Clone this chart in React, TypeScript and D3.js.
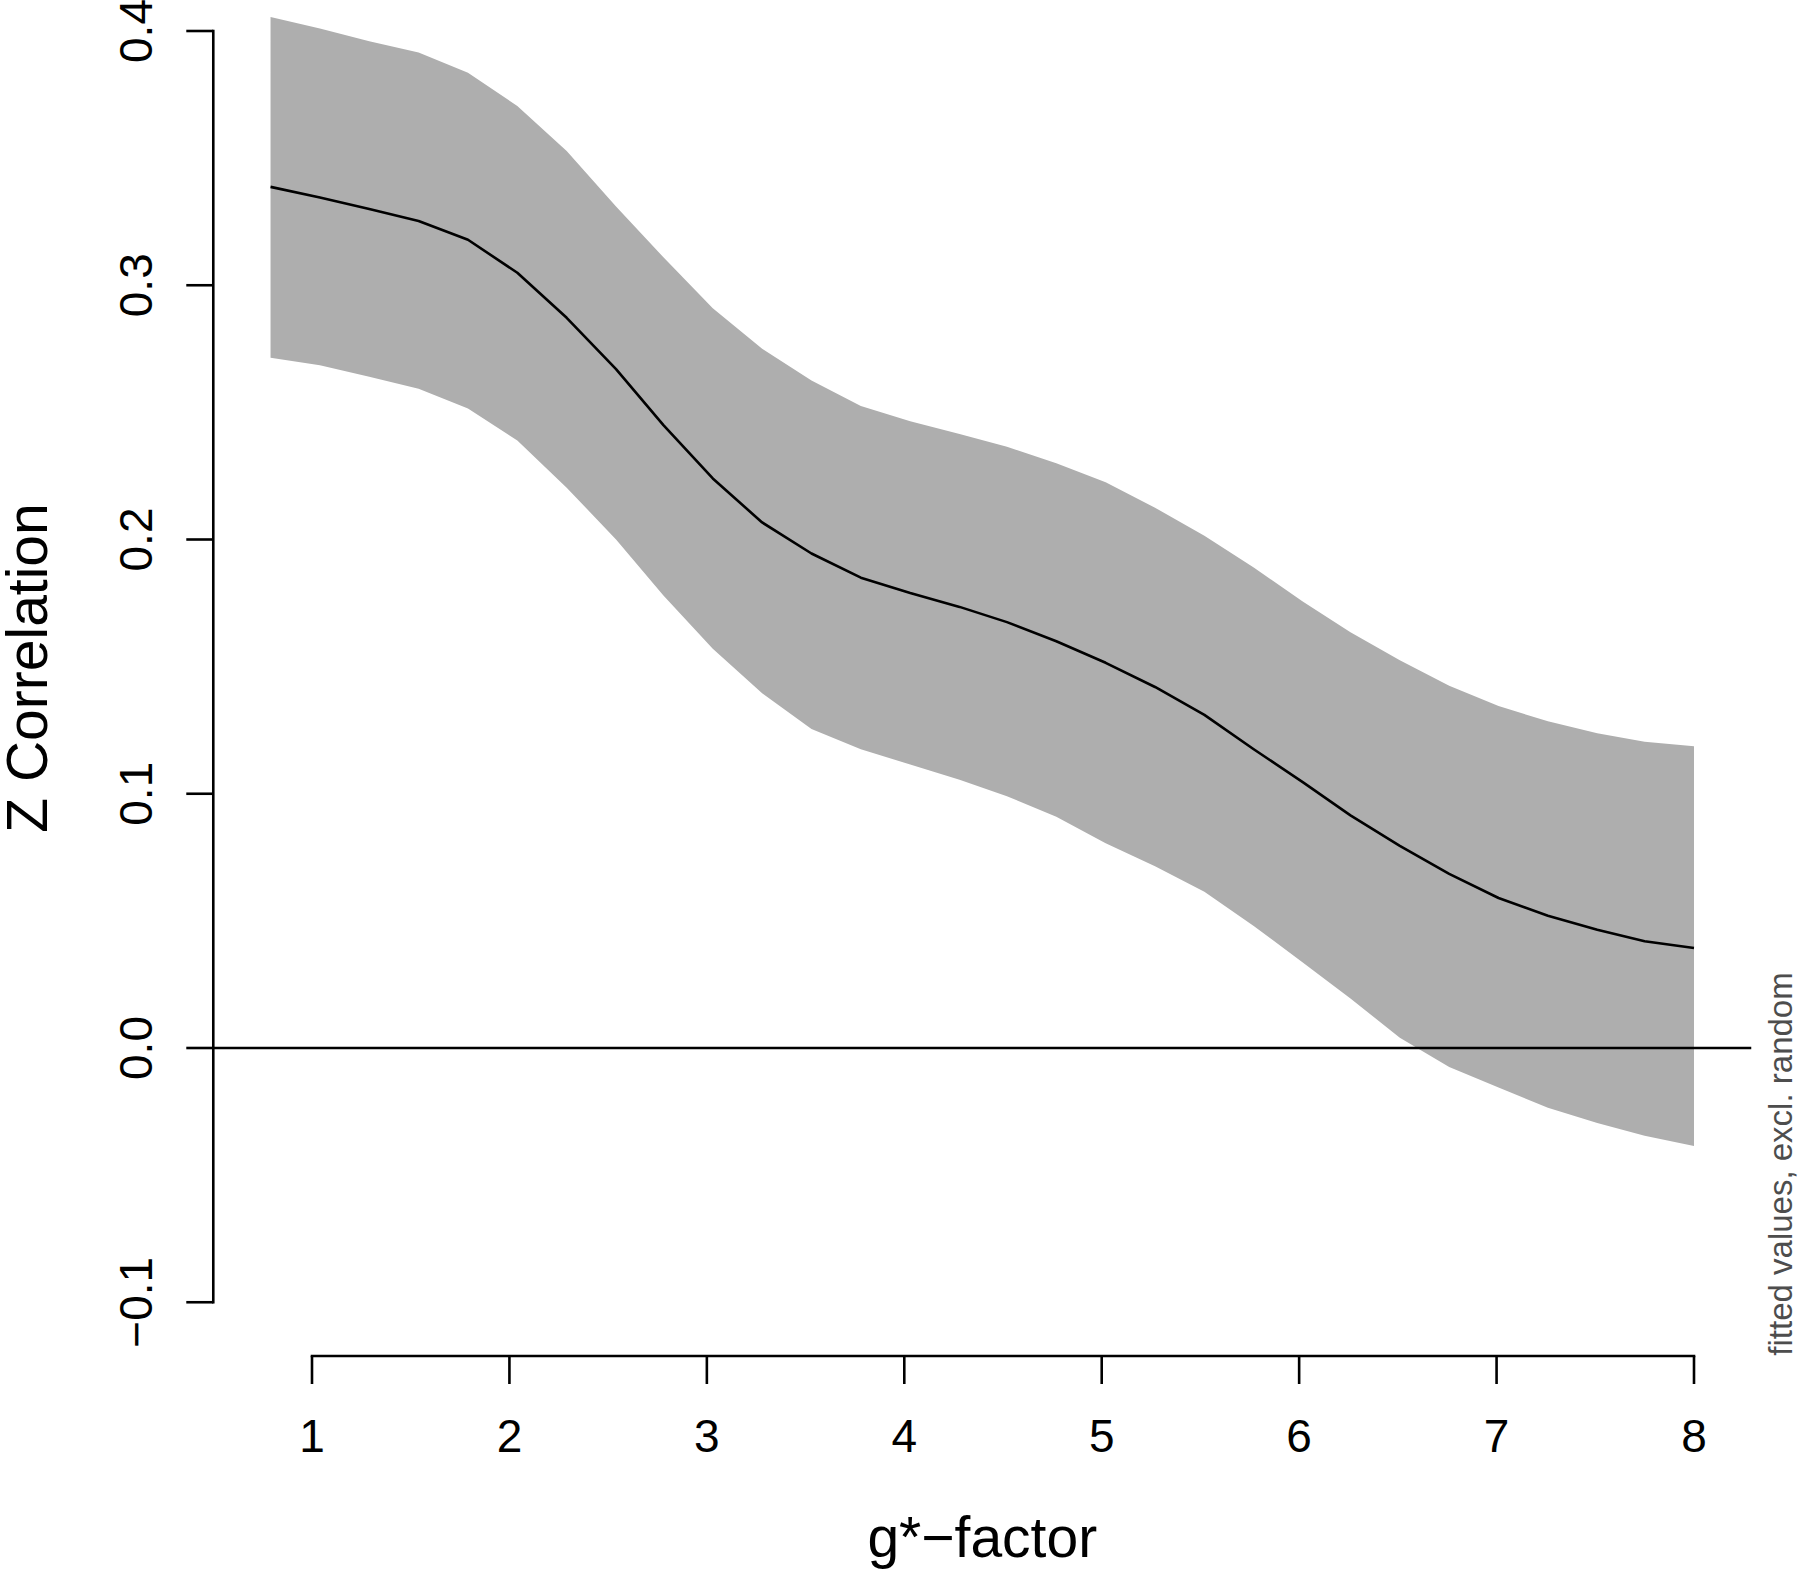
import React from "react";
import * as d3 from "d3";

// g*-factor grid (x) and fitted values with confidence band
const gFactor = [0.79, 1.04, 1.29, 1.54, 1.79, 2.04, 2.29, 2.54, 2.78, 3.03, 3.28, 3.53, 3.78, 4.03, 4.28, 4.52, 4.77, 5.02, 5.27, 5.52, 5.77, 6.02, 6.26, 6.51, 6.76, 7.01, 7.26, 7.51, 7.75, 8.0];
const fitted = [0.3387, 0.3345, 0.33, 0.3253, 0.3179, 0.3049, 0.2872, 0.267, 0.245, 0.224, 0.2067, 0.1945, 0.185, 0.179, 0.1735, 0.1675, 0.16, 0.1515, 0.142, 0.131, 0.1175, 0.1045, 0.0915, 0.0795, 0.0685, 0.059, 0.052, 0.0465, 0.042, 0.0393];
const upper = [0.4055, 0.401, 0.396, 0.3915, 0.3836, 0.3705, 0.3528, 0.331, 0.311, 0.291, 0.275, 0.2625, 0.2525, 0.2465, 0.2415, 0.2365, 0.23, 0.2225, 0.2125, 0.2015, 0.189, 0.1755, 0.1635, 0.1525, 0.1425, 0.1345, 0.1285, 0.1238, 0.1205, 0.1187];
const lower = [0.2715, 0.2685, 0.264, 0.2593, 0.2515, 0.2389, 0.2204, 0.2, 0.178, 0.157, 0.1395, 0.1255, 0.1175, 0.1115, 0.1055, 0.099, 0.091, 0.0805, 0.0715, 0.0615, 0.048, 0.0335, 0.0195, 0.004, -0.0075, -0.0155, -0.0235, -0.0295, -0.0345, -0.0385];

const xTicks = [1, 2, 3, 4, 5, 6, 7, 8];
const yTicks = [-0.1, 0.0, 0.1, 0.2, 0.3, 0.4];
const yTickLabels = ["\u22120.1", "0.0", "0.1", "0.2", "0.3", "0.4"];

const xTitle = "g*\u2212factor";
const yTitle = "Z Correlation";
const sideNote = "fitted values, excl. random";

export default function App() {
  const W = 1800;
  const H = 1572;
  const font = "'Liberation Sans', Arial, Helvetica, sans-serif";

  // plot region: x from 0.5 to 8.29 maps 215..1752
  const x = d3.scaleLinear().domain([1, 8]).range([312, 1694]);
  const y = d3.scaleLinear().domain([0, 0.4]).range([1048, 31]);

  const plotLeft = x(0.5);
  const plotRight = x(8.29);
  const xAxisY = 1356;
  const tickLen = 27;

  const pts = gFactor.map((g, i) => ({ g, f: fitted[i], u: upper[i], l: lower[i] }));

  const areaGen = d3
    .area<{ g: number; u: number; l: number }>()
    .x((d) => x(d.g))
    .y0((d) => y(d.l))
    .y1((d) => y(d.u));

  const lineGen = d3
    .line<{ g: number; f: number }>()
    .x((d) => x(d.g))
    .y((d) => y(d.f));

  const sw = 2.6;

  return (
    <svg
      width={W}
      height={H}
      style={{ position: "absolute", left: 0, top: 0, background: "#fff" }}
      fontFamily={font}
    >
      <rect x={0} y={0} width={W} height={H} fill="#fff" />
      <path d={areaGen(pts) || ""} fill="#aeaeae" stroke="none" />
      <path d={lineGen(pts) || ""} fill="none" stroke="#000" strokeWidth={sw} strokeLinejoin="round" />
      <line x1={plotLeft} x2={plotRight} y1={y(0)} y2={y(0)} stroke="#000" strokeWidth={sw} />

      {/* Y axis */}
      <line
        x1={plotLeft}
        x2={plotLeft}
        y1={y(yTicks[0])}
        y2={y(yTicks[yTicks.length - 1])}
        stroke="#000"
        strokeWidth={sw}
        strokeLinecap="square"
      />
      {yTicks.map((t, i) => (
        <g key={"yt" + i}>
          <line x1={plotLeft - tickLen} x2={plotLeft} y1={y(t)} y2={y(t)} stroke="#000" strokeWidth={sw} />
          <text
            transform={`translate(152, ${y(t)}) rotate(-90)`}
            textAnchor="middle"
            fontSize={46}
            fill="#000"
          >
            {yTickLabels[i]}
          </text>
        </g>
      ))}

      {/* X axis */}
      <line
        x1={x(xTicks[0])}
        x2={x(xTicks[xTicks.length - 1])}
        y1={xAxisY}
        y2={xAxisY}
        stroke="#000"
        strokeWidth={sw}
        strokeLinecap="square"
      />
      {xTicks.map((t, i) => (
        <g key={"xt" + i}>
          <line x1={x(t)} x2={x(t)} y1={xAxisY} y2={xAxisY + tickLen + 1} stroke="#000" strokeWidth={sw} />
          <text x={x(t)} y={1452} textAnchor="middle" fontSize={46} fill="#000">
            {String(t)}
          </text>
        </g>
      ))}

      {/* titles */}
      <text x={(plotLeft + plotRight) / 2} y={1557} textAnchor="middle" fontSize={57} fill="#000">
        {xTitle}
      </text>
      <text transform={`translate(47, 668) rotate(-90)`} textAnchor="middle" fontSize={57} fill="#000">
        {yTitle}
      </text>
      <text transform={`translate(1792, 1164) rotate(-90)`} textAnchor="middle" fontSize={33} fill="#4d4d4d">
        {sideNote}
      </text>
    </svg>
  );
}
